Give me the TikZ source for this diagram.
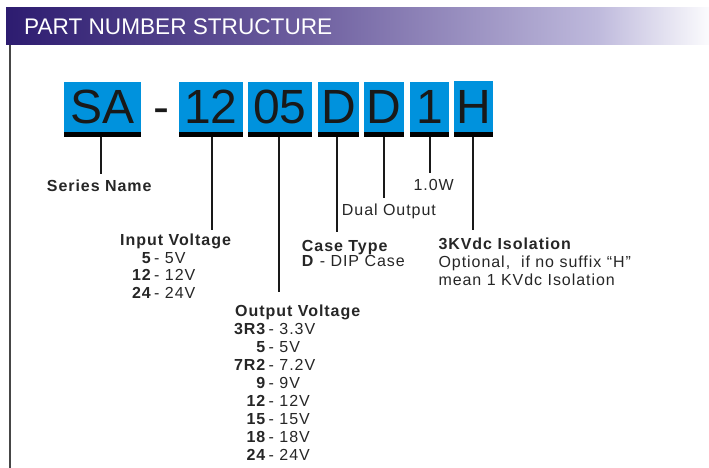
\documentclass[tikz,border=0pt]{standalone}
\usepackage{fontspec}
\setmainfont{Liberation Sans}
\newfontfamily\lblfont[LetterSpace=6]{Liberation Sans}
\definecolor{boxblue}{RGB}{0,146,221}
\definecolor{tbA}{RGB}{45,28,112}
\definecolor{tbB}{RGB}{108,93,158}
\definecolor{tbC}{RGB}{190,185,220}
\definecolor{tbD}{RGB}{251,251,253}
\definecolor{edgegray}{RGB}{70,70,70}
\pgfdeclarehorizontalshading{titlebar}{100bp}{color(0bp)=(tbA); color(25bp)=(tbA); color(46bp)=(tbB); color(67bp)=(tbC); color(75bp)=(tbD); color(100bp)=(tbD)}
\tikzset{
  pbox/.style={fill=boxblue, inner sep=0pt, outer sep=0pt, minimum height=50pt, anchor=north west},
  pbar/.style={fill=black, inner sep=0pt, outer sep=0pt, minimum height=5pt, anchor=north},
  bigtxt/.style={font=\fontsize{48}{48}\selectfont, text=black!90, inner sep=0pt, anchor=base},
  conn/.style={draw=black!90, line width=2.3pt},
  lbl/.style={font=\lblfont\fontsize{16}{16}\selectfont, text=black!85, inner sep=0pt, anchor=base west},
  blbl/.style={font=\lblfont\bfseries\fontsize{16}{16}\selectfont, text=black!85, inner sep=0pt, anchor=base west},
  numl/.style={font=\lblfont\bfseries\fontsize{16}{16}\selectfont, text=black!85, inner sep=0pt, anchor=base east},
}
\begin{document}
\begin{tikzpicture}[x=1pt,y=-1pt]
\useasboundingbox (0,0) rectangle (709,468);
\shade[shading=titlebar] (6,8) rectangle (709,45);
\node[anchor=base west, text=white, font=\fontsize{22.6}{22.6}\selectfont, inner sep=0pt] (title) at (24,35) {PART NUMBER STRUCTURE};
\draw[edgegray, line width=1.3pt] (10,45) -- (10,468);

% boxes
\node[pbox, minimum width=77pt] (bSA) at (64,82) {};
\node[pbox, minimum width=64pt] (bIn) at (179,82) {};
\node[pbox, minimum width=64pt] (bOut) at (248,82) {};
\node[pbox, minimum width=41pt] (bCase) at (318,82) {};
\node[pbox, minimum width=40pt] (bDual) at (364,82) {};
\node[pbox, minimum width=39pt] (bPow) at (410,82) {};
\node[pbox, minimum width=39pt, minimum height=51pt] (bIso) at (454,81) {};

\foreach \b/\w in {bSA/77, bIn/64, bOut/64, bCase/41, bDual/40, bPow/39, bIso/39}
  \node[pbar, minimum width=\w pt] (u\b) at (\b.south) {};

\node[bigtxt] (tSA) at (102.5,124) {SA};
\node[bigtxt] (tDash) at (161,124) {-};
\node[bigtxt] (tIn) at (211,124) {12};
\node[bigtxt] (tOut) at (280,124) {05};
\node[bigtxt] (tCase) at (338.5,124) {D};
\node[bigtxt] (tDual) at (384,124) {D};
\node[bigtxt] (tPow) at (429.5,124) {1};
\node[bigtxt] (tIso) at (473.5,124) {H};

% connectors
\coordinate (eSA) at (101,174);
\coordinate (eIn) at (211.7,230);
\coordinate (eOut) at (279.3,292);
\coordinate (eCase) at (336.7,232);
\coordinate (eDual) at (384,198);
\coordinate (ePow) at (430,173);
\coordinate (eIso) at (473.3,230);
\draw[conn] (ubSA.south -| eSA) -- (eSA);
\draw[conn] (ubIn.south -| eIn) -- (eIn);
\draw[conn] (ubOut.south -| eOut) -- (eOut);
\draw[conn] (ubCase.south -| eCase) -- (eCase);
\draw[conn] (ubDual.south -| eDual) -- (eDual);
\draw[conn] (ubPow.south -| ePow) -- (ePow);
\draw[conn] (ubIso.south -| eIso) -- (eIso);

% labels
\node[blbl] (lSeries) at (46.7,191.5) {Series Name};
\node[lbl] (lPow) at (413.3,190.5) {1.0W};
\node[lbl] (lDual) at (341.7,215.5) {Dual Output};
\node[blbl] (lCase) at (301.7,251.5) {Case Type};
\node[lbl] (lCase2) at (301.7,266.5) {\textbf{D} - DIP Case};
\node[blbl] (lIso) at (438.3,249) {3KVdc Isolation};
\node[lbl] (lIso2) at (438.3,267) {Optional,\ \ if no suffix “H”};
\node[lbl] (lIso3) at (438.3,285) {mean 1 KVdc Isolation};

\node[blbl] (lIn) at (120,245.5) {Input Voltage};
\node[numl] (in1) at (151,263) {5};   \node[lbl] (iv1) at (154,263) {- 5V};
\node[numl] (in2) at (151,280.5) {12}; \node[lbl] (iv2) at (154,280.5) {- 12V};
\node[numl] (in3) at (151,298) {24}; \node[lbl] (iv3) at (154,298) {- 24V};

\node[blbl] (lOut) at (235,316) {Output Voltage};
\foreach \n/\v [count=\i from 0] in {3R3/3.3V, 5/5V, 7R2/7.2V, 9/9V, 12/12V, 15/15V, 18/18V, 24/24V}{
  \node[numl] (on\i) at (265.5,334+18*\i) {\n};
  \node[lbl] (ov\i) at (268.5,334+18*\i) {- \v};
}
\end{tikzpicture}
\end{document}
